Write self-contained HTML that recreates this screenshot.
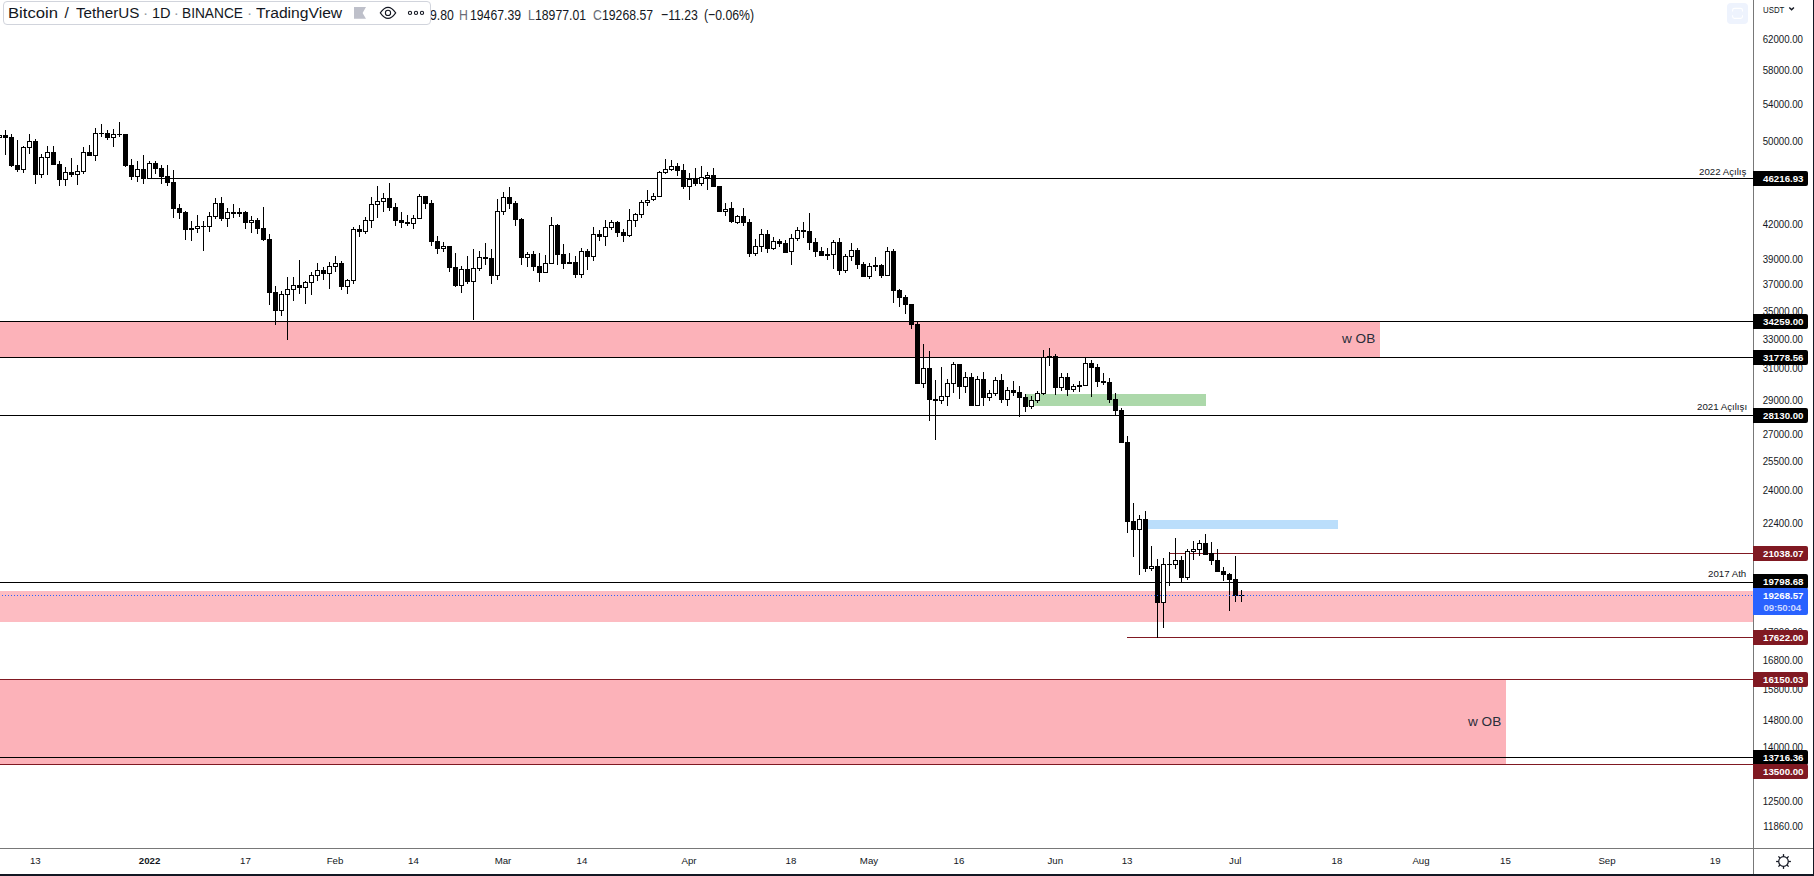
<!DOCTYPE html>
<html><head><meta charset="utf-8"><style>
html,body{margin:0;padding:0;background:#fff;width:1814px;height:876px;overflow:hidden;position:relative;font-family:"Liberation Sans",sans-serif}
svg{position:absolute;left:0;top:0}
.t{position:absolute;white-space:pre;line-height:1}
.tk{position:absolute;left:1754.6px;width:48px;text-align:right;font-size:10.2px;line-height:12px;color:#131722;white-space:pre;transform-origin:100% 50%;transform:scaleX(0.95)}
.lb{position:absolute;left:1753px;width:55px;height:15px;box-sizing:border-box;padding-right:4.5px;text-align:right;color:#fff;font-weight:700;font-size:9.7px;line-height:16px;border-radius:0 2px 2px 0}
.cur{line-height:12px;padding-top:2px}
.tl{position:absolute;top:855px;font-size:9.7px;line-height:12px;color:#131722;white-space:pre;transform:translateX(-50%)}
</style></head><body>
<svg width="1814" height="876" shape-rendering="crispEdges"><rect x="0" y="322" width="1380" height="35" fill="#fcb2b9" /><rect x="0" y="591" width="1753" height="31" fill="#fdbcc2" /><rect x="0" y="680" width="1506" height="84" fill="#fcb2b9" /><rect x="1026" y="394" width="180" height="12" fill="#acd8aa" /><rect x="1148" y="520" width="190" height="9" fill="#bbdefb" /><rect x="147" y="178" width="1606" height="1" fill="#000" /><rect x="0" y="321" width="1753" height="1" fill="#000" /><rect x="0" y="357" width="1753" height="1" fill="#000" /><rect x="0" y="415" width="1753" height="1" fill="#000" /><rect x="1170" y="553" width="583" height="1" fill="#801922" /><rect x="0" y="582" width="1753" height="1" fill="#000" /><rect x="1127" y="637" width="626" height="1" fill="#801922" /><rect x="0" y="679" width="1753" height="1" fill="#801922" /><rect x="0" y="757" width="1753" height="1" fill="#000" /><rect x="0" y="764" width="1753" height="1" fill="#801922" /><g fill="#000"><rect x="-1" y="130" width="1" height="10"/><rect x="-3" y="135" width="5" height="3"/><rect x="-2" y="136" width="3" height="1" fill="#fff"/><rect x="5" y="130" width="1" height="25"/><rect x="3" y="135" width="5" height="3"/><rect x="11" y="134" width="1" height="33"/><rect x="9" y="137" width="5" height="29"/><rect x="17" y="140" width="1" height="32"/><rect x="15" y="165" width="5" height="5"/><rect x="23" y="146" width="1" height="27"/><rect x="21" y="147" width="5" height="23"/><rect x="22" y="148" width="3" height="21" fill="#fff"/><rect x="29" y="134" width="1" height="20"/><rect x="27" y="141" width="5" height="7"/><rect x="28" y="142" width="3" height="5" fill="#fff"/><rect x="35" y="139" width="1" height="45"/><rect x="33" y="141" width="5" height="34"/><rect x="41" y="154" width="1" height="24"/><rect x="39" y="157" width="5" height="18"/><rect x="40" y="158" width="3" height="16" fill="#fff"/><rect x="47" y="146" width="1" height="29"/><rect x="45" y="152" width="5" height="6"/><rect x="46" y="153" width="3" height="4" fill="#fff"/><rect x="53" y="146" width="1" height="19"/><rect x="51" y="152" width="5" height="13"/><rect x="59" y="161" width="1" height="25"/><rect x="57" y="164" width="5" height="16"/><rect x="65" y="167" width="1" height="19"/><rect x="63" y="172" width="5" height="8"/><rect x="64" y="173" width="3" height="6" fill="#fff"/><rect x="71" y="158" width="1" height="19"/><rect x="69" y="172" width="5" height="3"/><rect x="77" y="165" width="1" height="20"/><rect x="75" y="171" width="5" height="4"/><rect x="76" y="172" width="3" height="2" fill="#fff"/><rect x="83" y="147" width="1" height="27"/><rect x="81" y="152" width="5" height="20"/><rect x="82" y="153" width="3" height="18" fill="#fff"/><rect x="89" y="145" width="1" height="11"/><rect x="87" y="152" width="5" height="4"/><rect x="95" y="128" width="1" height="33"/><rect x="93" y="133" width="5" height="23"/><rect x="94" y="134" width="3" height="21" fill="#fff"/><rect x="101" y="124" width="1" height="13"/><rect x="99" y="133" width="5" height="1"/><rect x="107" y="130" width="1" height="10"/><rect x="105" y="133" width="5" height="5"/><rect x="113" y="129" width="1" height="18"/><rect x="111" y="134" width="5" height="4"/><rect x="112" y="135" width="3" height="2" fill="#fff"/><rect x="119" y="122" width="1" height="15"/><rect x="117" y="134" width="5" height="1"/><rect x="125" y="134" width="1" height="33"/><rect x="123" y="134" width="5" height="32"/><rect x="131" y="159" width="1" height="21"/><rect x="129" y="165" width="5" height="12"/><rect x="137" y="161" width="1" height="21"/><rect x="135" y="169" width="5" height="8"/><rect x="136" y="170" width="3" height="6" fill="#fff"/><rect x="143" y="155" width="1" height="29"/><rect x="141" y="169" width="5" height="10"/><rect x="149" y="161" width="1" height="18"/><rect x="147" y="163" width="5" height="16"/><rect x="148" y="164" width="3" height="14" fill="#fff"/><rect x="155" y="161" width="1" height="13"/><rect x="153" y="163" width="5" height="6"/><rect x="161" y="165" width="1" height="19"/><rect x="159" y="168" width="5" height="9"/><rect x="167" y="165" width="1" height="21"/><rect x="165" y="176" width="5" height="7"/><rect x="173" y="170" width="1" height="48"/><rect x="171" y="182" width="5" height="27"/><rect x="179" y="204" width="1" height="15"/><rect x="177" y="208" width="5" height="5"/><rect x="185" y="211" width="1" height="29"/><rect x="183" y="212" width="5" height="18"/><rect x="191" y="221" width="1" height="20"/><rect x="189" y="228" width="5" height="2"/><rect x="197" y="215" width="1" height="18"/><rect x="195" y="226" width="5" height="3"/><rect x="196" y="227" width="3" height="1" fill="#fff"/><rect x="203" y="221" width="1" height="30"/><rect x="201" y="226" width="5" height="1"/><rect x="209" y="212" width="1" height="20"/><rect x="207" y="216" width="5" height="11"/><rect x="208" y="217" width="3" height="9" fill="#fff"/><rect x="215" y="198" width="1" height="21"/><rect x="213" y="203" width="5" height="14"/><rect x="214" y="204" width="3" height="12" fill="#fff"/><rect x="221" y="197" width="1" height="24"/><rect x="219" y="203" width="5" height="16"/><rect x="227" y="208" width="1" height="19"/><rect x="225" y="212" width="5" height="7"/><rect x="226" y="213" width="3" height="5" fill="#fff"/><rect x="233" y="204" width="1" height="14"/><rect x="231" y="212" width="5" height="2"/><rect x="239" y="208" width="1" height="9"/><rect x="237" y="212" width="5" height="2"/><rect x="245" y="211" width="1" height="18"/><rect x="243" y="212" width="5" height="11"/><rect x="251" y="216" width="1" height="17"/><rect x="249" y="220" width="5" height="3"/><rect x="250" y="221" width="3" height="1" fill="#fff"/><rect x="257" y="218" width="1" height="16"/><rect x="255" y="220" width="5" height="9"/><rect x="263" y="207" width="1" height="34"/><rect x="261" y="228" width="5" height="12"/><rect x="269" y="234" width="1" height="71"/><rect x="267" y="239" width="5" height="54"/><rect x="275" y="286" width="1" height="39"/><rect x="273" y="292" width="5" height="19"/><rect x="281" y="291" width="1" height="25"/><rect x="279" y="294" width="5" height="17"/><rect x="280" y="295" width="3" height="15" fill="#fff"/><rect x="287" y="277" width="1" height="63"/><rect x="285" y="289" width="5" height="6"/><rect x="286" y="290" width="3" height="4" fill="#fff"/><rect x="293" y="277" width="1" height="24"/><rect x="291" y="285" width="5" height="5"/><rect x="292" y="286" width="3" height="3" fill="#fff"/><rect x="299" y="260" width="1" height="34"/><rect x="297" y="285" width="5" height="3"/><rect x="305" y="281" width="1" height="23"/><rect x="303" y="282" width="5" height="6"/><rect x="304" y="283" width="3" height="4" fill="#fff"/><rect x="311" y="272" width="1" height="23"/><rect x="309" y="275" width="5" height="8"/><rect x="310" y="276" width="3" height="6" fill="#fff"/><rect x="317" y="263" width="1" height="18"/><rect x="315" y="270" width="5" height="6"/><rect x="316" y="271" width="3" height="4" fill="#fff"/><rect x="323" y="267" width="1" height="13"/><rect x="321" y="270" width="5" height="4"/><rect x="329" y="262" width="1" height="27"/><rect x="327" y="266" width="5" height="8"/><rect x="328" y="267" width="3" height="6" fill="#fff"/><rect x="335" y="256" width="1" height="16"/><rect x="333" y="263" width="5" height="4"/><rect x="334" y="264" width="3" height="2" fill="#fff"/><rect x="341" y="261" width="1" height="29"/><rect x="339" y="263" width="5" height="24"/><rect x="347" y="279" width="1" height="15"/><rect x="345" y="280" width="5" height="7"/><rect x="346" y="281" width="3" height="5" fill="#fff"/><rect x="353" y="227" width="1" height="57"/><rect x="351" y="229" width="5" height="52"/><rect x="352" y="230" width="3" height="50" fill="#fff"/><rect x="359" y="225" width="1" height="12"/><rect x="357" y="229" width="5" height="3"/><rect x="365" y="217" width="1" height="17"/><rect x="363" y="220" width="5" height="12"/><rect x="364" y="221" width="3" height="10" fill="#fff"/><rect x="371" y="197" width="1" height="31"/><rect x="369" y="204" width="5" height="17"/><rect x="370" y="205" width="3" height="15" fill="#fff"/><rect x="377" y="186" width="1" height="32"/><rect x="375" y="201" width="5" height="4"/><rect x="376" y="202" width="3" height="2" fill="#fff"/><rect x="383" y="193" width="1" height="19"/><rect x="381" y="198" width="5" height="4"/><rect x="382" y="199" width="3" height="2" fill="#fff"/><rect x="389" y="183" width="1" height="28"/><rect x="387" y="198" width="5" height="10"/><rect x="395" y="203" width="1" height="23"/><rect x="393" y="207" width="5" height="14"/><rect x="401" y="212" width="1" height="16"/><rect x="399" y="220" width="5" height="3"/><rect x="407" y="215" width="1" height="11"/><rect x="405" y="222" width="5" height="2"/><rect x="413" y="215" width="1" height="14"/><rect x="411" y="218" width="5" height="6"/><rect x="412" y="219" width="3" height="4" fill="#fff"/><rect x="419" y="194" width="1" height="25"/><rect x="417" y="196" width="5" height="23"/><rect x="418" y="197" width="3" height="21" fill="#fff"/><rect x="425" y="196" width="1" height="13"/><rect x="423" y="196" width="5" height="8"/><rect x="431" y="200" width="1" height="46"/><rect x="429" y="203" width="5" height="39"/><rect x="437" y="236" width="1" height="18"/><rect x="435" y="241" width="5" height="8"/><rect x="443" y="242" width="1" height="10"/><rect x="441" y="246" width="5" height="3"/><rect x="442" y="247" width="3" height="1" fill="#fff"/><rect x="449" y="246" width="1" height="26"/><rect x="447" y="246" width="5" height="22"/><rect x="455" y="253" width="1" height="34"/><rect x="453" y="267" width="5" height="19"/><rect x="461" y="266" width="1" height="27"/><rect x="459" y="269" width="5" height="17"/><rect x="460" y="270" width="3" height="15" fill="#fff"/><rect x="467" y="256" width="1" height="28"/><rect x="465" y="269" width="5" height="13"/><rect x="473" y="249" width="1" height="71"/><rect x="471" y="268" width="5" height="14"/><rect x="472" y="269" width="3" height="12" fill="#fff"/><rect x="479" y="251" width="1" height="20"/><rect x="477" y="257" width="5" height="12"/><rect x="478" y="258" width="3" height="10" fill="#fff"/><rect x="485" y="243" width="1" height="22"/><rect x="483" y="257" width="5" height="2"/><rect x="491" y="249" width="1" height="35"/><rect x="489" y="258" width="5" height="18"/><rect x="497" y="199" width="1" height="81"/><rect x="495" y="211" width="5" height="65"/><rect x="496" y="212" width="3" height="63" fill="#fff"/><rect x="503" y="192" width="1" height="23"/><rect x="501" y="197" width="5" height="15"/><rect x="502" y="198" width="3" height="13" fill="#fff"/><rect x="509" y="187" width="1" height="22"/><rect x="507" y="197" width="5" height="7"/><rect x="515" y="201" width="1" height="25"/><rect x="513" y="203" width="5" height="17"/><rect x="521" y="218" width="1" height="47"/><rect x="519" y="219" width="5" height="39"/><rect x="527" y="252" width="1" height="15"/><rect x="525" y="254" width="5" height="4"/><rect x="526" y="255" width="3" height="2" fill="#fff"/><rect x="533" y="251" width="1" height="20"/><rect x="531" y="254" width="5" height="13"/><rect x="539" y="253" width="1" height="29"/><rect x="537" y="266" width="5" height="7"/><rect x="545" y="255" width="1" height="18"/><rect x="543" y="263" width="5" height="10"/><rect x="544" y="264" width="3" height="8" fill="#fff"/><rect x="551" y="217" width="1" height="47"/><rect x="549" y="225" width="5" height="39"/><rect x="550" y="226" width="3" height="37" fill="#fff"/><rect x="557" y="224" width="1" height="41"/><rect x="555" y="225" width="5" height="30"/><rect x="563" y="244" width="1" height="25"/><rect x="561" y="254" width="5" height="10"/><rect x="569" y="253" width="1" height="11"/><rect x="567" y="262" width="5" height="2"/><rect x="575" y="256" width="1" height="22"/><rect x="573" y="262" width="5" height="13"/><rect x="581" y="248" width="1" height="30"/><rect x="579" y="251" width="5" height="24"/><rect x="580" y="252" width="3" height="22" fill="#fff"/><rect x="587" y="249" width="1" height="21"/><rect x="585" y="251" width="5" height="6"/><rect x="593" y="227" width="1" height="34"/><rect x="591" y="234" width="5" height="23"/><rect x="592" y="235" width="3" height="21" fill="#fff"/><rect x="599" y="230" width="1" height="11"/><rect x="597" y="234" width="5" height="3"/><rect x="605" y="220" width="1" height="26"/><rect x="603" y="227" width="5" height="10"/><rect x="604" y="228" width="3" height="8" fill="#fff"/><rect x="611" y="220" width="1" height="10"/><rect x="609" y="222" width="5" height="6"/><rect x="610" y="223" width="3" height="4" fill="#fff"/><rect x="617" y="221" width="1" height="16"/><rect x="615" y="222" width="5" height="11"/><rect x="623" y="229" width="1" height="13"/><rect x="621" y="232" width="5" height="4"/><rect x="629" y="209" width="1" height="28"/><rect x="627" y="220" width="5" height="16"/><rect x="628" y="221" width="3" height="14" fill="#fff"/><rect x="635" y="213" width="1" height="14"/><rect x="633" y="214" width="5" height="7"/><rect x="634" y="215" width="3" height="5" fill="#fff"/><rect x="641" y="200" width="1" height="18"/><rect x="639" y="202" width="5" height="13"/><rect x="640" y="203" width="3" height="11" fill="#fff"/><rect x="647" y="190" width="1" height="16"/><rect x="645" y="200" width="5" height="3"/><rect x="646" y="201" width="3" height="1" fill="#fff"/><rect x="653" y="193" width="1" height="8"/><rect x="651" y="196" width="5" height="4"/><rect x="652" y="197" width="3" height="2" fill="#fff"/><rect x="659" y="171" width="1" height="26"/><rect x="657" y="172" width="5" height="25"/><rect x="658" y="173" width="3" height="23" fill="#fff"/><rect x="665" y="159" width="1" height="15"/><rect x="663" y="169" width="5" height="4"/><rect x="664" y="170" width="3" height="2" fill="#fff"/><rect x="671" y="160" width="1" height="11"/><rect x="669" y="166" width="5" height="4"/><rect x="670" y="167" width="3" height="2" fill="#fff"/><rect x="677" y="163" width="1" height="13"/><rect x="675" y="166" width="5" height="5"/><rect x="683" y="164" width="1" height="25"/><rect x="681" y="170" width="5" height="17"/><rect x="689" y="173" width="1" height="27"/><rect x="687" y="179" width="5" height="8"/><rect x="688" y="180" width="3" height="6" fill="#fff"/><rect x="695" y="168" width="1" height="18"/><rect x="693" y="179" width="5" height="5"/><rect x="701" y="166" width="1" height="20"/><rect x="699" y="177" width="5" height="7"/><rect x="700" y="178" width="3" height="5" fill="#fff"/><rect x="707" y="172" width="1" height="18"/><rect x="705" y="175" width="5" height="3"/><rect x="706" y="176" width="3" height="1" fill="#fff"/><rect x="713" y="168" width="1" height="19"/><rect x="711" y="175" width="5" height="12"/><rect x="719" y="186" width="1" height="26"/><rect x="717" y="186" width="5" height="26"/><rect x="725" y="203" width="1" height="13"/><rect x="723" y="209" width="5" height="3"/><rect x="724" y="210" width="3" height="1" fill="#fff"/><rect x="731" y="202" width="1" height="21"/><rect x="729" y="208" width="5" height="14"/><rect x="737" y="215" width="1" height="9"/><rect x="735" y="216" width="5" height="7"/><rect x="736" y="217" width="3" height="5" fill="#fff"/><rect x="743" y="208" width="1" height="18"/><rect x="741" y="216" width="5" height="7"/><rect x="749" y="219" width="1" height="38"/><rect x="747" y="222" width="5" height="32"/><rect x="755" y="239" width="1" height="17"/><rect x="753" y="246" width="5" height="8"/><rect x="754" y="247" width="3" height="6" fill="#fff"/><rect x="761" y="229" width="1" height="23"/><rect x="759" y="234" width="5" height="13"/><rect x="760" y="235" width="3" height="11" fill="#fff"/><rect x="767" y="230" width="1" height="23"/><rect x="765" y="234" width="5" height="15"/><rect x="773" y="237" width="1" height="13"/><rect x="771" y="241" width="5" height="8"/><rect x="772" y="242" width="3" height="6" fill="#fff"/><rect x="779" y="239" width="1" height="8"/><rect x="777" y="241" width="5" height="3"/><rect x="785" y="240" width="1" height="13"/><rect x="783" y="243" width="5" height="10"/><rect x="791" y="234" width="1" height="31"/><rect x="789" y="238" width="5" height="14"/><rect x="790" y="239" width="3" height="12" fill="#fff"/><rect x="797" y="227" width="1" height="14"/><rect x="795" y="230" width="5" height="9"/><rect x="796" y="231" width="3" height="7" fill="#fff"/><rect x="803" y="222" width="1" height="16"/><rect x="801" y="230" width="5" height="2"/><rect x="809" y="213" width="1" height="37"/><rect x="807" y="231" width="5" height="12"/><rect x="815" y="238" width="1" height="19"/><rect x="813" y="242" width="5" height="10"/><rect x="821" y="247" width="1" height="9"/><rect x="819" y="251" width="5" height="5"/><rect x="827" y="248" width="1" height="12"/><rect x="825" y="254" width="5" height="2"/><rect x="833" y="240" width="1" height="29"/><rect x="831" y="242" width="5" height="13"/><rect x="832" y="243" width="3" height="11" fill="#fff"/><rect x="839" y="238" width="1" height="37"/><rect x="837" y="242" width="5" height="29"/><rect x="845" y="254" width="1" height="19"/><rect x="843" y="256" width="5" height="15"/><rect x="844" y="257" width="3" height="13" fill="#fff"/><rect x="851" y="243" width="1" height="18"/><rect x="849" y="250" width="5" height="7"/><rect x="850" y="251" width="3" height="5" fill="#fff"/><rect x="857" y="248" width="1" height="21"/><rect x="855" y="250" width="5" height="15"/><rect x="863" y="262" width="1" height="15"/><rect x="861" y="264" width="5" height="13"/><rect x="869" y="263" width="1" height="16"/><rect x="867" y="266" width="5" height="11"/><rect x="868" y="267" width="3" height="9" fill="#fff"/><rect x="875" y="257" width="1" height="14"/><rect x="873" y="265" width="5" height="2"/><rect x="881" y="264" width="1" height="14"/><rect x="879" y="265" width="5" height="11"/><rect x="887" y="247" width="1" height="29"/><rect x="885" y="251" width="5" height="25"/><rect x="886" y="252" width="3" height="23" fill="#fff"/><rect x="893" y="249" width="1" height="54"/><rect x="891" y="251" width="5" height="40"/><rect x="899" y="289" width="1" height="18"/><rect x="897" y="290" width="5" height="8"/><rect x="905" y="295" width="1" height="19"/><rect x="903" y="297" width="5" height="8"/><rect x="911" y="304" width="1" height="25"/><rect x="909" y="304" width="5" height="21"/><rect x="917" y="322" width="1" height="62"/><rect x="915" y="324" width="5" height="60"/><rect x="923" y="344" width="1" height="44"/><rect x="921" y="368" width="5" height="16"/><rect x="922" y="369" width="3" height="14" fill="#fff"/><rect x="929" y="351" width="1" height="70"/><rect x="927" y="368" width="5" height="32"/><rect x="935" y="380" width="1" height="60"/><rect x="933" y="399" width="5" height="2"/><rect x="941" y="367" width="1" height="37"/><rect x="939" y="396" width="5" height="5"/><rect x="940" y="397" width="3" height="3" fill="#fff"/><rect x="947" y="379" width="1" height="27"/><rect x="945" y="383" width="5" height="14"/><rect x="946" y="384" width="3" height="12" fill="#fff"/><rect x="953" y="362" width="1" height="31"/><rect x="951" y="364" width="5" height="20"/><rect x="952" y="365" width="3" height="18" fill="#fff"/><rect x="959" y="364" width="1" height="35"/><rect x="957" y="364" width="5" height="23"/><rect x="965" y="372" width="1" height="21"/><rect x="963" y="377" width="5" height="10"/><rect x="964" y="378" width="3" height="8" fill="#fff"/><rect x="971" y="373" width="1" height="33"/><rect x="969" y="377" width="5" height="29"/><rect x="977" y="376" width="1" height="30"/><rect x="975" y="379" width="5" height="27"/><rect x="976" y="380" width="3" height="25" fill="#fff"/><rect x="983" y="372" width="1" height="34"/><rect x="981" y="379" width="5" height="19"/><rect x="989" y="390" width="1" height="11"/><rect x="987" y="393" width="5" height="5"/><rect x="988" y="394" width="3" height="3" fill="#fff"/><rect x="995" y="377" width="1" height="19"/><rect x="993" y="380" width="5" height="14"/><rect x="994" y="381" width="3" height="12" fill="#fff"/><rect x="1001" y="374" width="1" height="29"/><rect x="999" y="380" width="5" height="20"/><rect x="1007" y="387" width="1" height="19"/><rect x="1005" y="390" width="5" height="10"/><rect x="1006" y="391" width="3" height="8" fill="#fff"/><rect x="1013" y="381" width="1" height="15"/><rect x="1011" y="390" width="5" height="3"/><rect x="1019" y="386" width="1" height="31"/><rect x="1017" y="392" width="5" height="6"/><rect x="1025" y="394" width="1" height="18"/><rect x="1023" y="397" width="5" height="10"/><rect x="1031" y="396" width="1" height="13"/><rect x="1029" y="400" width="5" height="7"/><rect x="1030" y="401" width="3" height="5" fill="#fff"/><rect x="1037" y="391" width="1" height="12"/><rect x="1035" y="393" width="5" height="8"/><rect x="1036" y="394" width="3" height="6" fill="#fff"/><rect x="1043" y="350" width="1" height="45"/><rect x="1041" y="357" width="5" height="37"/><rect x="1042" y="358" width="3" height="35" fill="#fff"/><rect x="1049" y="348" width="1" height="18"/><rect x="1047" y="356" width="5" height="2"/><rect x="1055" y="354" width="1" height="41"/><rect x="1053" y="356" width="5" height="32"/><rect x="1061" y="373" width="1" height="18"/><rect x="1059" y="377" width="5" height="11"/><rect x="1060" y="378" width="3" height="9" fill="#fff"/><rect x="1067" y="373" width="1" height="23"/><rect x="1065" y="377" width="5" height="13"/><rect x="1073" y="384" width="1" height="8"/><rect x="1071" y="386" width="5" height="4"/><rect x="1072" y="387" width="3" height="2" fill="#fff"/><rect x="1079" y="381" width="1" height="11"/><rect x="1077" y="385" width="5" height="2"/><rect x="1085" y="357" width="1" height="29"/><rect x="1083" y="363" width="5" height="23"/><rect x="1084" y="364" width="3" height="21" fill="#fff"/><rect x="1091" y="360" width="1" height="37"/><rect x="1089" y="363" width="5" height="5"/><rect x="1097" y="364" width="1" height="23"/><rect x="1095" y="367" width="5" height="15"/><rect x="1103" y="373" width="1" height="12"/><rect x="1101" y="381" width="5" height="2"/><rect x="1109" y="378" width="1" height="25"/><rect x="1107" y="382" width="5" height="18"/><rect x="1115" y="393" width="1" height="23"/><rect x="1113" y="399" width="5" height="12"/><rect x="1121" y="408" width="1" height="35"/><rect x="1119" y="410" width="5" height="33"/><rect x="1127" y="436" width="1" height="97"/><rect x="1125" y="442" width="5" height="80"/><rect x="1133" y="503" width="1" height="54"/><rect x="1131" y="521" width="5" height="9"/><rect x="1139" y="515" width="1" height="60"/><rect x="1137" y="519" width="5" height="11"/><rect x="1138" y="520" width="3" height="9" fill="#fff"/><rect x="1145" y="511" width="1" height="61"/><rect x="1143" y="519" width="5" height="50"/><rect x="1151" y="546" width="1" height="25"/><rect x="1149" y="566" width="5" height="3"/><rect x="1150" y="567" width="3" height="1" fill="#fff"/><rect x="1157" y="559" width="1" height="79"/><rect x="1155" y="566" width="5" height="37"/><rect x="1163" y="558" width="1" height="70"/><rect x="1161" y="564" width="5" height="39"/><rect x="1162" y="565" width="3" height="37" fill="#fff"/><rect x="1169" y="552" width="1" height="34"/><rect x="1167" y="564" width="5" height="1"/><rect x="1175" y="538" width="1" height="31"/><rect x="1173" y="560" width="5" height="5"/><rect x="1174" y="561" width="3" height="3" fill="#fff"/><rect x="1181" y="556" width="1" height="27"/><rect x="1179" y="560" width="5" height="18"/><rect x="1187" y="549" width="1" height="31"/><rect x="1185" y="551" width="5" height="27"/><rect x="1186" y="552" width="3" height="25" fill="#fff"/><rect x="1193" y="541" width="1" height="19"/><rect x="1191" y="549" width="5" height="3"/><rect x="1192" y="550" width="3" height="1" fill="#fff"/><rect x="1199" y="540" width="1" height="16"/><rect x="1197" y="543" width="5" height="7"/><rect x="1198" y="544" width="3" height="5" fill="#fff"/><rect x="1205" y="534" width="1" height="21"/><rect x="1203" y="543" width="5" height="12"/><rect x="1211" y="542" width="1" height="23"/><rect x="1209" y="553" width="5" height="8"/><rect x="1217" y="549" width="1" height="23"/><rect x="1215" y="560" width="5" height="12"/><rect x="1223" y="567" width="1" height="14"/><rect x="1221" y="571" width="5" height="4"/><rect x="1229" y="573" width="1" height="38"/><rect x="1227" y="574" width="5" height="6"/><rect x="1235" y="556" width="1" height="46"/><rect x="1233" y="579" width="5" height="17"/><rect x="1241" y="590" width="1" height="12"/><rect x="1239" y="595" width="5" height="1"/></g><g fill="#2962ff"><rect x="2" y="595" width="1" height="1"/><rect x="5" y="595" width="1" height="1"/><rect x="8" y="595" width="1" height="1"/><rect x="11" y="595" width="1" height="1"/><rect x="14" y="595" width="1" height="1"/><rect x="17" y="595" width="1" height="1"/><rect x="20" y="595" width="1" height="1"/><rect x="23" y="595" width="1" height="1"/><rect x="26" y="595" width="1" height="1"/><rect x="29" y="595" width="1" height="1"/><rect x="32" y="595" width="1" height="1"/><rect x="35" y="595" width="1" height="1"/><rect x="38" y="595" width="1" height="1"/><rect x="41" y="595" width="1" height="1"/><rect x="44" y="595" width="1" height="1"/><rect x="47" y="595" width="1" height="1"/><rect x="50" y="595" width="1" height="1"/><rect x="53" y="595" width="1" height="1"/><rect x="56" y="595" width="1" height="1"/><rect x="59" y="595" width="1" height="1"/><rect x="62" y="595" width="1" height="1"/><rect x="65" y="595" width="1" height="1"/><rect x="68" y="595" width="1" height="1"/><rect x="71" y="595" width="1" height="1"/><rect x="74" y="595" width="1" height="1"/><rect x="77" y="595" width="1" height="1"/><rect x="80" y="595" width="1" height="1"/><rect x="83" y="595" width="1" height="1"/><rect x="86" y="595" width="1" height="1"/><rect x="89" y="595" width="1" height="1"/><rect x="92" y="595" width="1" height="1"/><rect x="95" y="595" width="1" height="1"/><rect x="98" y="595" width="1" height="1"/><rect x="101" y="595" width="1" height="1"/><rect x="104" y="595" width="1" height="1"/><rect x="107" y="595" width="1" height="1"/><rect x="110" y="595" width="1" height="1"/><rect x="113" y="595" width="1" height="1"/><rect x="116" y="595" width="1" height="1"/><rect x="119" y="595" width="1" height="1"/><rect x="122" y="595" width="1" height="1"/><rect x="125" y="595" width="1" height="1"/><rect x="128" y="595" width="1" height="1"/><rect x="131" y="595" width="1" height="1"/><rect x="134" y="595" width="1" height="1"/><rect x="137" y="595" width="1" height="1"/><rect x="140" y="595" width="1" height="1"/><rect x="143" y="595" width="1" height="1"/><rect x="146" y="595" width="1" height="1"/><rect x="149" y="595" width="1" height="1"/><rect x="152" y="595" width="1" height="1"/><rect x="155" y="595" width="1" height="1"/><rect x="158" y="595" width="1" height="1"/><rect x="161" y="595" width="1" height="1"/><rect x="164" y="595" width="1" height="1"/><rect x="167" y="595" width="1" height="1"/><rect x="170" y="595" width="1" height="1"/><rect x="173" y="595" width="1" height="1"/><rect x="176" y="595" width="1" height="1"/><rect x="179" y="595" width="1" height="1"/><rect x="182" y="595" width="1" height="1"/><rect x="185" y="595" width="1" height="1"/><rect x="188" y="595" width="1" height="1"/><rect x="191" y="595" width="1" height="1"/><rect x="194" y="595" width="1" height="1"/><rect x="197" y="595" width="1" height="1"/><rect x="200" y="595" width="1" height="1"/><rect x="203" y="595" width="1" height="1"/><rect x="206" y="595" width="1" height="1"/><rect x="209" y="595" width="1" height="1"/><rect x="212" y="595" width="1" height="1"/><rect x="215" y="595" width="1" height="1"/><rect x="218" y="595" width="1" height="1"/><rect x="221" y="595" width="1" height="1"/><rect x="224" y="595" width="1" height="1"/><rect x="227" y="595" width="1" height="1"/><rect x="230" y="595" width="1" height="1"/><rect x="233" y="595" width="1" height="1"/><rect x="236" y="595" width="1" height="1"/><rect x="239" y="595" width="1" height="1"/><rect x="242" y="595" width="1" height="1"/><rect x="245" y="595" width="1" height="1"/><rect x="248" y="595" width="1" height="1"/><rect x="251" y="595" width="1" height="1"/><rect x="254" y="595" width="1" height="1"/><rect x="257" y="595" width="1" height="1"/><rect x="260" y="595" width="1" height="1"/><rect x="263" y="595" width="1" height="1"/><rect x="266" y="595" width="1" height="1"/><rect x="269" y="595" width="1" height="1"/><rect x="272" y="595" width="1" height="1"/><rect x="275" y="595" width="1" height="1"/><rect x="278" y="595" width="1" height="1"/><rect x="281" y="595" width="1" height="1"/><rect x="284" y="595" width="1" height="1"/><rect x="287" y="595" width="1" height="1"/><rect x="290" y="595" width="1" height="1"/><rect x="293" y="595" width="1" height="1"/><rect x="296" y="595" width="1" height="1"/><rect x="299" y="595" width="1" height="1"/><rect x="302" y="595" width="1" height="1"/><rect x="305" y="595" width="1" height="1"/><rect x="308" y="595" width="1" height="1"/><rect x="311" y="595" width="1" height="1"/><rect x="314" y="595" width="1" height="1"/><rect x="317" y="595" width="1" height="1"/><rect x="320" y="595" width="1" height="1"/><rect x="323" y="595" width="1" height="1"/><rect x="326" y="595" width="1" height="1"/><rect x="329" y="595" width="1" height="1"/><rect x="332" y="595" width="1" height="1"/><rect x="335" y="595" width="1" height="1"/><rect x="338" y="595" width="1" height="1"/><rect x="341" y="595" width="1" height="1"/><rect x="344" y="595" width="1" height="1"/><rect x="347" y="595" width="1" height="1"/><rect x="350" y="595" width="1" height="1"/><rect x="353" y="595" width="1" height="1"/><rect x="356" y="595" width="1" height="1"/><rect x="359" y="595" width="1" height="1"/><rect x="362" y="595" width="1" height="1"/><rect x="365" y="595" width="1" height="1"/><rect x="368" y="595" width="1" height="1"/><rect x="371" y="595" width="1" height="1"/><rect x="374" y="595" width="1" height="1"/><rect x="377" y="595" width="1" height="1"/><rect x="380" y="595" width="1" height="1"/><rect x="383" y="595" width="1" height="1"/><rect x="386" y="595" width="1" height="1"/><rect x="389" y="595" width="1" height="1"/><rect x="392" y="595" width="1" height="1"/><rect x="395" y="595" width="1" height="1"/><rect x="398" y="595" width="1" height="1"/><rect x="401" y="595" width="1" height="1"/><rect x="404" y="595" width="1" height="1"/><rect x="407" y="595" width="1" height="1"/><rect x="410" y="595" width="1" height="1"/><rect x="413" y="595" width="1" height="1"/><rect x="416" y="595" width="1" height="1"/><rect x="419" y="595" width="1" height="1"/><rect x="422" y="595" width="1" height="1"/><rect x="425" y="595" width="1" height="1"/><rect x="428" y="595" width="1" height="1"/><rect x="431" y="595" width="1" height="1"/><rect x="434" y="595" width="1" height="1"/><rect x="437" y="595" width="1" height="1"/><rect x="440" y="595" width="1" height="1"/><rect x="443" y="595" width="1" height="1"/><rect x="446" y="595" width="1" height="1"/><rect x="449" y="595" width="1" height="1"/><rect x="452" y="595" width="1" height="1"/><rect x="455" y="595" width="1" height="1"/><rect x="458" y="595" width="1" height="1"/><rect x="461" y="595" width="1" height="1"/><rect x="464" y="595" width="1" height="1"/><rect x="467" y="595" width="1" height="1"/><rect x="470" y="595" width="1" height="1"/><rect x="473" y="595" width="1" height="1"/><rect x="476" y="595" width="1" height="1"/><rect x="479" y="595" width="1" height="1"/><rect x="482" y="595" width="1" height="1"/><rect x="485" y="595" width="1" height="1"/><rect x="488" y="595" width="1" height="1"/><rect x="491" y="595" width="1" height="1"/><rect x="494" y="595" width="1" height="1"/><rect x="497" y="595" width="1" height="1"/><rect x="500" y="595" width="1" height="1"/><rect x="503" y="595" width="1" height="1"/><rect x="506" y="595" width="1" height="1"/><rect x="509" y="595" width="1" height="1"/><rect x="512" y="595" width="1" height="1"/><rect x="515" y="595" width="1" height="1"/><rect x="518" y="595" width="1" height="1"/><rect x="521" y="595" width="1" height="1"/><rect x="524" y="595" width="1" height="1"/><rect x="527" y="595" width="1" height="1"/><rect x="530" y="595" width="1" height="1"/><rect x="533" y="595" width="1" height="1"/><rect x="536" y="595" width="1" height="1"/><rect x="539" y="595" width="1" height="1"/><rect x="542" y="595" width="1" height="1"/><rect x="545" y="595" width="1" height="1"/><rect x="548" y="595" width="1" height="1"/><rect x="551" y="595" width="1" height="1"/><rect x="554" y="595" width="1" height="1"/><rect x="557" y="595" width="1" height="1"/><rect x="560" y="595" width="1" height="1"/><rect x="563" y="595" width="1" height="1"/><rect x="566" y="595" width="1" height="1"/><rect x="569" y="595" width="1" height="1"/><rect x="572" y="595" width="1" height="1"/><rect x="575" y="595" width="1" height="1"/><rect x="578" y="595" width="1" height="1"/><rect x="581" y="595" width="1" height="1"/><rect x="584" y="595" width="1" height="1"/><rect x="587" y="595" width="1" height="1"/><rect x="590" y="595" width="1" height="1"/><rect x="593" y="595" width="1" height="1"/><rect x="596" y="595" width="1" height="1"/><rect x="599" y="595" width="1" height="1"/><rect x="602" y="595" width="1" height="1"/><rect x="605" y="595" width="1" height="1"/><rect x="608" y="595" width="1" height="1"/><rect x="611" y="595" width="1" height="1"/><rect x="614" y="595" width="1" height="1"/><rect x="617" y="595" width="1" height="1"/><rect x="620" y="595" width="1" height="1"/><rect x="623" y="595" width="1" height="1"/><rect x="626" y="595" width="1" height="1"/><rect x="629" y="595" width="1" height="1"/><rect x="632" y="595" width="1" height="1"/><rect x="635" y="595" width="1" height="1"/><rect x="638" y="595" width="1" height="1"/><rect x="641" y="595" width="1" height="1"/><rect x="644" y="595" width="1" height="1"/><rect x="647" y="595" width="1" height="1"/><rect x="650" y="595" width="1" height="1"/><rect x="653" y="595" width="1" height="1"/><rect x="656" y="595" width="1" height="1"/><rect x="659" y="595" width="1" height="1"/><rect x="662" y="595" width="1" height="1"/><rect x="665" y="595" width="1" height="1"/><rect x="668" y="595" width="1" height="1"/><rect x="671" y="595" width="1" height="1"/><rect x="674" y="595" width="1" height="1"/><rect x="677" y="595" width="1" height="1"/><rect x="680" y="595" width="1" height="1"/><rect x="683" y="595" width="1" height="1"/><rect x="686" y="595" width="1" height="1"/><rect x="689" y="595" width="1" height="1"/><rect x="692" y="595" width="1" height="1"/><rect x="695" y="595" width="1" height="1"/><rect x="698" y="595" width="1" height="1"/><rect x="701" y="595" width="1" height="1"/><rect x="704" y="595" width="1" height="1"/><rect x="707" y="595" width="1" height="1"/><rect x="710" y="595" width="1" height="1"/><rect x="713" y="595" width="1" height="1"/><rect x="716" y="595" width="1" height="1"/><rect x="719" y="595" width="1" height="1"/><rect x="722" y="595" width="1" height="1"/><rect x="725" y="595" width="1" height="1"/><rect x="728" y="595" width="1" height="1"/><rect x="731" y="595" width="1" height="1"/><rect x="734" y="595" width="1" height="1"/><rect x="737" y="595" width="1" height="1"/><rect x="740" y="595" width="1" height="1"/><rect x="743" y="595" width="1" height="1"/><rect x="746" y="595" width="1" height="1"/><rect x="749" y="595" width="1" height="1"/><rect x="752" y="595" width="1" height="1"/><rect x="755" y="595" width="1" height="1"/><rect x="758" y="595" width="1" height="1"/><rect x="761" y="595" width="1" height="1"/><rect x="764" y="595" width="1" height="1"/><rect x="767" y="595" width="1" height="1"/><rect x="770" y="595" width="1" height="1"/><rect x="773" y="595" width="1" height="1"/><rect x="776" y="595" width="1" height="1"/><rect x="779" y="595" width="1" height="1"/><rect x="782" y="595" width="1" height="1"/><rect x="785" y="595" width="1" height="1"/><rect x="788" y="595" width="1" height="1"/><rect x="791" y="595" width="1" height="1"/><rect x="794" y="595" width="1" height="1"/><rect x="797" y="595" width="1" height="1"/><rect x="800" y="595" width="1" height="1"/><rect x="803" y="595" width="1" height="1"/><rect x="806" y="595" width="1" height="1"/><rect x="809" y="595" width="1" height="1"/><rect x="812" y="595" width="1" height="1"/><rect x="815" y="595" width="1" height="1"/><rect x="818" y="595" width="1" height="1"/><rect x="821" y="595" width="1" height="1"/><rect x="824" y="595" width="1" height="1"/><rect x="827" y="595" width="1" height="1"/><rect x="830" y="595" width="1" height="1"/><rect x="833" y="595" width="1" height="1"/><rect x="836" y="595" width="1" height="1"/><rect x="839" y="595" width="1" height="1"/><rect x="842" y="595" width="1" height="1"/><rect x="845" y="595" width="1" height="1"/><rect x="848" y="595" width="1" height="1"/><rect x="851" y="595" width="1" height="1"/><rect x="854" y="595" width="1" height="1"/><rect x="857" y="595" width="1" height="1"/><rect x="860" y="595" width="1" height="1"/><rect x="863" y="595" width="1" height="1"/><rect x="866" y="595" width="1" height="1"/><rect x="869" y="595" width="1" height="1"/><rect x="872" y="595" width="1" height="1"/><rect x="875" y="595" width="1" height="1"/><rect x="878" y="595" width="1" height="1"/><rect x="881" y="595" width="1" height="1"/><rect x="884" y="595" width="1" height="1"/><rect x="887" y="595" width="1" height="1"/><rect x="890" y="595" width="1" height="1"/><rect x="893" y="595" width="1" height="1"/><rect x="896" y="595" width="1" height="1"/><rect x="899" y="595" width="1" height="1"/><rect x="902" y="595" width="1" height="1"/><rect x="905" y="595" width="1" height="1"/><rect x="908" y="595" width="1" height="1"/><rect x="911" y="595" width="1" height="1"/><rect x="914" y="595" width="1" height="1"/><rect x="917" y="595" width="1" height="1"/><rect x="920" y="595" width="1" height="1"/><rect x="923" y="595" width="1" height="1"/><rect x="926" y="595" width="1" height="1"/><rect x="929" y="595" width="1" height="1"/><rect x="932" y="595" width="1" height="1"/><rect x="935" y="595" width="1" height="1"/><rect x="938" y="595" width="1" height="1"/><rect x="941" y="595" width="1" height="1"/><rect x="944" y="595" width="1" height="1"/><rect x="947" y="595" width="1" height="1"/><rect x="950" y="595" width="1" height="1"/><rect x="953" y="595" width="1" height="1"/><rect x="956" y="595" width="1" height="1"/><rect x="959" y="595" width="1" height="1"/><rect x="962" y="595" width="1" height="1"/><rect x="965" y="595" width="1" height="1"/><rect x="968" y="595" width="1" height="1"/><rect x="971" y="595" width="1" height="1"/><rect x="974" y="595" width="1" height="1"/><rect x="977" y="595" width="1" height="1"/><rect x="980" y="595" width="1" height="1"/><rect x="983" y="595" width="1" height="1"/><rect x="986" y="595" width="1" height="1"/><rect x="989" y="595" width="1" height="1"/><rect x="992" y="595" width="1" height="1"/><rect x="995" y="595" width="1" height="1"/><rect x="998" y="595" width="1" height="1"/><rect x="1001" y="595" width="1" height="1"/><rect x="1004" y="595" width="1" height="1"/><rect x="1007" y="595" width="1" height="1"/><rect x="1010" y="595" width="1" height="1"/><rect x="1013" y="595" width="1" height="1"/><rect x="1016" y="595" width="1" height="1"/><rect x="1019" y="595" width="1" height="1"/><rect x="1022" y="595" width="1" height="1"/><rect x="1025" y="595" width="1" height="1"/><rect x="1028" y="595" width="1" height="1"/><rect x="1031" y="595" width="1" height="1"/><rect x="1034" y="595" width="1" height="1"/><rect x="1037" y="595" width="1" height="1"/><rect x="1040" y="595" width="1" height="1"/><rect x="1043" y="595" width="1" height="1"/><rect x="1046" y="595" width="1" height="1"/><rect x="1049" y="595" width="1" height="1"/><rect x="1052" y="595" width="1" height="1"/><rect x="1055" y="595" width="1" height="1"/><rect x="1058" y="595" width="1" height="1"/><rect x="1061" y="595" width="1" height="1"/><rect x="1064" y="595" width="1" height="1"/><rect x="1067" y="595" width="1" height="1"/><rect x="1070" y="595" width="1" height="1"/><rect x="1073" y="595" width="1" height="1"/><rect x="1076" y="595" width="1" height="1"/><rect x="1079" y="595" width="1" height="1"/><rect x="1082" y="595" width="1" height="1"/><rect x="1085" y="595" width="1" height="1"/><rect x="1088" y="595" width="1" height="1"/><rect x="1091" y="595" width="1" height="1"/><rect x="1094" y="595" width="1" height="1"/><rect x="1097" y="595" width="1" height="1"/><rect x="1100" y="595" width="1" height="1"/><rect x="1103" y="595" width="1" height="1"/><rect x="1106" y="595" width="1" height="1"/><rect x="1109" y="595" width="1" height="1"/><rect x="1112" y="595" width="1" height="1"/><rect x="1115" y="595" width="1" height="1"/><rect x="1118" y="595" width="1" height="1"/><rect x="1121" y="595" width="1" height="1"/><rect x="1124" y="595" width="1" height="1"/><rect x="1127" y="595" width="1" height="1"/><rect x="1130" y="595" width="1" height="1"/><rect x="1133" y="595" width="1" height="1"/><rect x="1136" y="595" width="1" height="1"/><rect x="1139" y="595" width="1" height="1"/><rect x="1142" y="595" width="1" height="1"/><rect x="1145" y="595" width="1" height="1"/><rect x="1148" y="595" width="1" height="1"/><rect x="1151" y="595" width="1" height="1"/><rect x="1154" y="595" width="1" height="1"/><rect x="1157" y="595" width="1" height="1"/><rect x="1160" y="595" width="1" height="1"/><rect x="1163" y="595" width="1" height="1"/><rect x="1166" y="595" width="1" height="1"/><rect x="1169" y="595" width="1" height="1"/><rect x="1172" y="595" width="1" height="1"/><rect x="1175" y="595" width="1" height="1"/><rect x="1178" y="595" width="1" height="1"/><rect x="1181" y="595" width="1" height="1"/><rect x="1184" y="595" width="1" height="1"/><rect x="1187" y="595" width="1" height="1"/><rect x="1190" y="595" width="1" height="1"/><rect x="1193" y="595" width="1" height="1"/><rect x="1196" y="595" width="1" height="1"/><rect x="1199" y="595" width="1" height="1"/><rect x="1202" y="595" width="1" height="1"/><rect x="1205" y="595" width="1" height="1"/><rect x="1208" y="595" width="1" height="1"/><rect x="1211" y="595" width="1" height="1"/><rect x="1214" y="595" width="1" height="1"/><rect x="1217" y="595" width="1" height="1"/><rect x="1220" y="595" width="1" height="1"/><rect x="1223" y="595" width="1" height="1"/><rect x="1226" y="595" width="1" height="1"/><rect x="1229" y="595" width="1" height="1"/><rect x="1232" y="595" width="1" height="1"/><rect x="1235" y="595" width="1" height="1"/><rect x="1238" y="595" width="1" height="1"/><rect x="1241" y="595" width="1" height="1"/><rect x="1244" y="595" width="1" height="1"/><rect x="1247" y="595" width="1" height="1"/><rect x="1250" y="595" width="1" height="1"/><rect x="1253" y="595" width="1" height="1"/><rect x="1256" y="595" width="1" height="1"/><rect x="1259" y="595" width="1" height="1"/><rect x="1262" y="595" width="1" height="1"/><rect x="1265" y="595" width="1" height="1"/><rect x="1268" y="595" width="1" height="1"/><rect x="1271" y="595" width="1" height="1"/><rect x="1274" y="595" width="1" height="1"/><rect x="1277" y="595" width="1" height="1"/><rect x="1280" y="595" width="1" height="1"/><rect x="1283" y="595" width="1" height="1"/><rect x="1286" y="595" width="1" height="1"/><rect x="1289" y="595" width="1" height="1"/><rect x="1292" y="595" width="1" height="1"/><rect x="1295" y="595" width="1" height="1"/><rect x="1298" y="595" width="1" height="1"/><rect x="1301" y="595" width="1" height="1"/><rect x="1304" y="595" width="1" height="1"/><rect x="1307" y="595" width="1" height="1"/><rect x="1310" y="595" width="1" height="1"/><rect x="1313" y="595" width="1" height="1"/><rect x="1316" y="595" width="1" height="1"/><rect x="1319" y="595" width="1" height="1"/><rect x="1322" y="595" width="1" height="1"/><rect x="1325" y="595" width="1" height="1"/><rect x="1328" y="595" width="1" height="1"/><rect x="1331" y="595" width="1" height="1"/><rect x="1334" y="595" width="1" height="1"/><rect x="1337" y="595" width="1" height="1"/><rect x="1340" y="595" width="1" height="1"/><rect x="1343" y="595" width="1" height="1"/><rect x="1346" y="595" width="1" height="1"/><rect x="1349" y="595" width="1" height="1"/><rect x="1352" y="595" width="1" height="1"/><rect x="1355" y="595" width="1" height="1"/><rect x="1358" y="595" width="1" height="1"/><rect x="1361" y="595" width="1" height="1"/><rect x="1364" y="595" width="1" height="1"/><rect x="1367" y="595" width="1" height="1"/><rect x="1370" y="595" width="1" height="1"/><rect x="1373" y="595" width="1" height="1"/><rect x="1376" y="595" width="1" height="1"/><rect x="1379" y="595" width="1" height="1"/><rect x="1382" y="595" width="1" height="1"/><rect x="1385" y="595" width="1" height="1"/><rect x="1388" y="595" width="1" height="1"/><rect x="1391" y="595" width="1" height="1"/><rect x="1394" y="595" width="1" height="1"/><rect x="1397" y="595" width="1" height="1"/><rect x="1400" y="595" width="1" height="1"/><rect x="1403" y="595" width="1" height="1"/><rect x="1406" y="595" width="1" height="1"/><rect x="1409" y="595" width="1" height="1"/><rect x="1412" y="595" width="1" height="1"/><rect x="1415" y="595" width="1" height="1"/><rect x="1418" y="595" width="1" height="1"/><rect x="1421" y="595" width="1" height="1"/><rect x="1424" y="595" width="1" height="1"/><rect x="1427" y="595" width="1" height="1"/><rect x="1430" y="595" width="1" height="1"/><rect x="1433" y="595" width="1" height="1"/><rect x="1436" y="595" width="1" height="1"/><rect x="1439" y="595" width="1" height="1"/><rect x="1442" y="595" width="1" height="1"/><rect x="1445" y="595" width="1" height="1"/><rect x="1448" y="595" width="1" height="1"/><rect x="1451" y="595" width="1" height="1"/><rect x="1454" y="595" width="1" height="1"/><rect x="1457" y="595" width="1" height="1"/><rect x="1460" y="595" width="1" height="1"/><rect x="1463" y="595" width="1" height="1"/><rect x="1466" y="595" width="1" height="1"/><rect x="1469" y="595" width="1" height="1"/><rect x="1472" y="595" width="1" height="1"/><rect x="1475" y="595" width="1" height="1"/><rect x="1478" y="595" width="1" height="1"/><rect x="1481" y="595" width="1" height="1"/><rect x="1484" y="595" width="1" height="1"/><rect x="1487" y="595" width="1" height="1"/><rect x="1490" y="595" width="1" height="1"/><rect x="1493" y="595" width="1" height="1"/><rect x="1496" y="595" width="1" height="1"/><rect x="1499" y="595" width="1" height="1"/><rect x="1502" y="595" width="1" height="1"/><rect x="1505" y="595" width="1" height="1"/><rect x="1508" y="595" width="1" height="1"/><rect x="1511" y="595" width="1" height="1"/><rect x="1514" y="595" width="1" height="1"/><rect x="1517" y="595" width="1" height="1"/><rect x="1520" y="595" width="1" height="1"/><rect x="1523" y="595" width="1" height="1"/><rect x="1526" y="595" width="1" height="1"/><rect x="1529" y="595" width="1" height="1"/><rect x="1532" y="595" width="1" height="1"/><rect x="1535" y="595" width="1" height="1"/><rect x="1538" y="595" width="1" height="1"/><rect x="1541" y="595" width="1" height="1"/><rect x="1544" y="595" width="1" height="1"/><rect x="1547" y="595" width="1" height="1"/><rect x="1550" y="595" width="1" height="1"/><rect x="1553" y="595" width="1" height="1"/><rect x="1556" y="595" width="1" height="1"/><rect x="1559" y="595" width="1" height="1"/><rect x="1562" y="595" width="1" height="1"/><rect x="1565" y="595" width="1" height="1"/><rect x="1568" y="595" width="1" height="1"/><rect x="1571" y="595" width="1" height="1"/><rect x="1574" y="595" width="1" height="1"/><rect x="1577" y="595" width="1" height="1"/><rect x="1580" y="595" width="1" height="1"/><rect x="1583" y="595" width="1" height="1"/><rect x="1586" y="595" width="1" height="1"/><rect x="1589" y="595" width="1" height="1"/><rect x="1592" y="595" width="1" height="1"/><rect x="1595" y="595" width="1" height="1"/><rect x="1598" y="595" width="1" height="1"/><rect x="1601" y="595" width="1" height="1"/><rect x="1604" y="595" width="1" height="1"/><rect x="1607" y="595" width="1" height="1"/><rect x="1610" y="595" width="1" height="1"/><rect x="1613" y="595" width="1" height="1"/><rect x="1616" y="595" width="1" height="1"/><rect x="1619" y="595" width="1" height="1"/><rect x="1622" y="595" width="1" height="1"/><rect x="1625" y="595" width="1" height="1"/><rect x="1628" y="595" width="1" height="1"/><rect x="1631" y="595" width="1" height="1"/><rect x="1634" y="595" width="1" height="1"/><rect x="1637" y="595" width="1" height="1"/><rect x="1640" y="595" width="1" height="1"/><rect x="1643" y="595" width="1" height="1"/><rect x="1646" y="595" width="1" height="1"/><rect x="1649" y="595" width="1" height="1"/><rect x="1652" y="595" width="1" height="1"/><rect x="1655" y="595" width="1" height="1"/><rect x="1658" y="595" width="1" height="1"/><rect x="1661" y="595" width="1" height="1"/><rect x="1664" y="595" width="1" height="1"/><rect x="1667" y="595" width="1" height="1"/><rect x="1670" y="595" width="1" height="1"/><rect x="1673" y="595" width="1" height="1"/><rect x="1676" y="595" width="1" height="1"/><rect x="1679" y="595" width="1" height="1"/><rect x="1682" y="595" width="1" height="1"/><rect x="1685" y="595" width="1" height="1"/><rect x="1688" y="595" width="1" height="1"/><rect x="1691" y="595" width="1" height="1"/><rect x="1694" y="595" width="1" height="1"/><rect x="1697" y="595" width="1" height="1"/><rect x="1700" y="595" width="1" height="1"/><rect x="1703" y="595" width="1" height="1"/><rect x="1706" y="595" width="1" height="1"/><rect x="1709" y="595" width="1" height="1"/><rect x="1712" y="595" width="1" height="1"/><rect x="1715" y="595" width="1" height="1"/><rect x="1718" y="595" width="1" height="1"/><rect x="1721" y="595" width="1" height="1"/><rect x="1724" y="595" width="1" height="1"/><rect x="1727" y="595" width="1" height="1"/><rect x="1730" y="595" width="1" height="1"/><rect x="1733" y="595" width="1" height="1"/><rect x="1736" y="595" width="1" height="1"/><rect x="1739" y="595" width="1" height="1"/><rect x="1742" y="595" width="1" height="1"/><rect x="1745" y="595" width="1" height="1"/><rect x="1748" y="595" width="1" height="1"/><rect x="1751" y="595" width="1" height="1"/></g><rect x="1753" y="0" width="1" height="874" fill="#787878" /><rect x="0" y="848" width="1813" height="1" fill="#787878" /><rect x="1813" y="0" width="1" height="876" fill="#131722" /><rect x="0" y="874" width="1814" height="2" fill="#131722" /></svg>
<div class="tk" style="top:33.5px">62000.00</div>
<div class="tk" style="top:65.2px">58000.00</div>
<div class="tk" style="top:99.2px">54000.00</div>
<div class="tk" style="top:135.9px">50000.00</div>
<div class="tk" style="top:218.8px">42000.00</div>
<div class="tk" style="top:254.1px">39000.00</div>
<div class="tk" style="top:279.1px">37000.00</div>
<div class="tk" style="top:305.6px">35000.00</div>
<div class="tk" style="top:333.6px">33000.00</div>
<div class="tk" style="top:363.3px">31000.00</div>
<div class="tk" style="top:395.1px">29000.00</div>
<div class="tk" style="top:429.1px">27000.00</div>
<div class="tk" style="top:456.3px">25500.00</div>
<div class="tk" style="top:485.1px">24000.00</div>
<div class="tk" style="top:518.0px">22400.00</div>
<div class="tk" style="top:627.3px">17800.00</div>
<div class="tk" style="top:654.8px">16800.00</div>
<div class="tk" style="top:684.0px">15800.00</div>
<div class="tk" style="top:715.2px">14800.00</div>
<div class="tk" style="top:741.6px">14000.00</div>
<div class="tk" style="top:795.5px">12500.00</div>
<div class="tk" style="top:820.5px">11860.00</div>
<div class="tl" style="left:35.3px">13</div>
<div class="tl" style="left:149.6px"><b>2022</b></div>
<div class="tl" style="left:245.5px">17</div>
<div class="tl" style="left:335px">Feb</div>
<div class="tl" style="left:413.5px">14</div>
<div class="tl" style="left:503px">Mar</div>
<div class="tl" style="left:582px">14</div>
<div class="tl" style="left:689px">Apr</div>
<div class="tl" style="left:791px">18</div>
<div class="tl" style="left:869px">May</div>
<div class="tl" style="left:959px">16</div>
<div class="tl" style="left:1055.3px">Jun</div>
<div class="tl" style="left:1127.1px">13</div>
<div class="tl" style="left:1235.3px">Jul</div>
<div class="tl" style="left:1337px">18</div>
<div class="tl" style="left:1421px">Aug</div>
<div class="tl" style="left:1505.5px">15</div>
<div class="tl" style="left:1607px">Sep</div>
<div class="tl" style="left:1715.2px">19</div>
<div class="t" style="left:1342px;top:331.5px;font-size:13.6px;color:#2a2e39;font-weight:400;">w OB</div>
<div class="t" style="left:1468px;top:715px;font-size:13.6px;color:#2a2e39;font-weight:400;">w OB</div>
<div class="t" style="left:1699px;top:167px;font-size:9.7px;color:#131722;font-weight:400;">2022 Açılış</div>
<div class="t" style="left:1697px;top:402px;font-size:9.7px;color:#131722;font-weight:400;">2021 Açılışı</div>
<div class="t" style="left:1708px;top:569px;font-size:9.7px;color:#131722;font-weight:400;">2017 Ath</div>
<div class="t" style="left:1763px;top:5.3px;font-size:9.8px;color:#131722;font-weight:400;transform-origin:0 0;transform:scaleX(0.8)">USDT</div>
<div style="position:absolute;left:429.5px;top:5.8px;font-size:15.5px;line-height:17.5px;color:#131722;white-space:pre;transform-origin:0 0;transform:scaleX(0.79)">9.80</div><div style="position:absolute;left:459.4px;top:5.8px;font-size:15.5px;line-height:17.5px;color:#6a6d78;white-space:pre;transform-origin:0 0;transform:scaleX(0.79)">H</div><div style="position:absolute;left:470.3px;top:5.8px;font-size:15.5px;line-height:17.5px;color:#131722;white-space:pre;transform-origin:0 0;transform:scaleX(0.79)">19467.39</div><div style="position:absolute;left:527.8px;top:5.8px;font-size:15.5px;line-height:17.5px;color:#6a6d78;white-space:pre;transform-origin:0 0;transform:scaleX(0.79)">L</div><div style="position:absolute;left:534.8px;top:5.8px;font-size:15.5px;line-height:17.5px;color:#131722;white-space:pre;transform-origin:0 0;transform:scaleX(0.79)">18977.01</div><div style="position:absolute;left:593.3px;top:5.8px;font-size:15.5px;line-height:17.5px;color:#6a6d78;white-space:pre;transform-origin:0 0;transform:scaleX(0.79)">C</div><div style="position:absolute;left:602.2px;top:5.8px;font-size:15.5px;line-height:17.5px;color:#131722;white-space:pre;transform-origin:0 0;transform:scaleX(0.79)">19268.57</div><div style="position:absolute;left:660.7px;top:5.8px;font-size:15.5px;line-height:17.5px;color:#131722;white-space:pre;transform-origin:0 0;transform:scaleX(0.79)">−11.23</div><div style="position:absolute;left:704.4px;top:5.8px;font-size:15.5px;line-height:17.5px;color:#131722;white-space:pre;transform-origin:0 0;transform:scaleX(0.79)">(−0.06%)</div><div style="position:absolute;left:3px;top:1px;width:426px;height:22px;border:1px solid #d1d4dc;border-radius:4px;background:#fff"></div><div style="position:absolute;left:7.6px;top:4px;font-size:15.5px;line-height:17.5px;color:#131722;white-space:pre;transform-origin:0 0;transform:scaleX(1.075)">Bitcoin</div><div style="position:absolute;left:64.5px;top:4px;font-size:15.5px;line-height:17.5px;color:#131722;white-space:pre;transform-origin:0 0;transform:scaleX(1.0)">/</div><div style="position:absolute;left:76.2px;top:4px;font-size:15.5px;line-height:17.5px;color:#131722;white-space:pre;transform-origin:0 0;transform:scaleX(0.98)">TetherUS</div><div style="position:absolute;left:143px;top:4px;font-size:15.5px;line-height:17.5px;color:#9598a1;white-space:pre;transform-origin:0 0;transform:scaleX(1.0)">·</div><div style="position:absolute;left:151.5px;top:4px;font-size:15.5px;line-height:17.5px;color:#131722;white-space:pre;transform-origin:0 0;transform:scaleX(0.94)">1D</div><div style="position:absolute;left:173.7px;top:4px;font-size:15.5px;line-height:17.5px;color:#9598a1;white-space:pre;transform-origin:0 0;transform:scaleX(1.0)">·</div><div style="position:absolute;left:182px;top:4px;font-size:15.5px;line-height:17.5px;color:#131722;white-space:pre;transform-origin:0 0;transform:scaleX(0.885)">BINANCE</div><div style="position:absolute;left:247px;top:4px;font-size:15.5px;line-height:17.5px;color:#9598a1;white-space:pre;transform-origin:0 0;transform:scaleX(1.0)">·</div><div style="position:absolute;left:256.1px;top:4px;font-size:15.5px;line-height:17.5px;color:#131722;white-space:pre;transform-origin:0 0;transform:scaleX(1.01)">TradingView</div><svg style="position:absolute;left:0;top:0" width="440" height="30"><path d="M354 7H366L362.6 12.9L366 18.7H354Z" fill="#bec0ca"/><path d="M380.3 12.9Q388 1.9 395.7 12.9Q388 23.9 380.3 12.9Z" fill="none" stroke="#131722" stroke-width="1.1"/><circle cx="388" cy="12.9" r="2.6" fill="none" stroke="#131722" stroke-width="1.1"/><circle cx="410" cy="12.9" r="1.6" fill="none" stroke="#131722" stroke-width="1.1"/><circle cx="416" cy="12.9" r="1.6" fill="none" stroke="#131722" stroke-width="1.1"/><circle cx="422" cy="12.9" r="1.6" fill="none" stroke="#131722" stroke-width="1.1"/></svg><div style="position:absolute;left:1727px;top:3px;width:21px;height:21px;border-radius:4px;background:#eef3fd"></div><svg style="position:absolute;left:0;top:0" width="1814" height="876"><path d="M1732.6 11.6V10.3Q1732.6 8.4 1734.5 8.4H1740.6Q1742.5 8.4 1742.5 10.3V11.6M1732.6 15.2V16.5Q1732.6 18.4 1734.5 18.4H1740.6Q1742.5 18.4 1742.5 16.5V15.2" fill="none" stroke="#fff" stroke-width="1.1"/><path d="M1789.3 7.5L1791.6 9.8L1793.9 7.5" fill="none" stroke="#131722" stroke-width="1.4"/><circle cx="1783.5" cy="861.5" r="4.8" fill="none" stroke="#131722" stroke-width="1.2"/><line x1="1788.50" y1="861.50" x2="1790.90" y2="861.50" stroke="#131722" stroke-width="1.3"/><line x1="1787.04" y1="865.04" x2="1788.59" y2="866.59" stroke="#131722" stroke-width="1.3"/><line x1="1783.50" y1="866.50" x2="1783.50" y2="868.90" stroke="#131722" stroke-width="1.3"/><line x1="1779.96" y1="865.04" x2="1778.41" y2="866.59" stroke="#131722" stroke-width="1.3"/><line x1="1778.50" y1="861.50" x2="1776.10" y2="861.50" stroke="#131722" stroke-width="1.3"/><line x1="1779.96" y1="857.96" x2="1778.41" y2="856.41" stroke="#131722" stroke-width="1.3"/><line x1="1783.50" y1="856.50" x2="1783.50" y2="854.10" stroke="#131722" stroke-width="1.3"/><line x1="1787.04" y1="857.96" x2="1788.59" y2="856.41" stroke="#131722" stroke-width="1.3"/></svg>
<div class="lb" style="top:171px;background:#000">46216.93</div>
<div class="lb" style="top:314px;background:#000">34259.00</div>
<div class="lb" style="top:350px;background:#000">31778.56</div>
<div class="lb" style="top:408px;background:#000">28130.00</div>
<div class="lb" style="top:546px;background:#801922">21038.07</div>
<div class="lb" style="top:574px;background:#000">19798.68</div>
<div class="lb" style="top:630px;background:#801922">17622.00</div>
<div class="lb" style="top:672px;background:#801922">16150.03</div>
<div class="lb" style="top:750px;background:#000">13716.36</div>
<div class="lb" style="top:764px;background:#801922">13500.00</div>
<div class="lb cur" style="top:588px;height:27px;background:#2962ff">19268.57<br><span style="color:#cdd9ff;display:inline-block;width:40px;text-align:left;letter-spacing:-0.15px">09:50:04</span></div>
</body></html>
